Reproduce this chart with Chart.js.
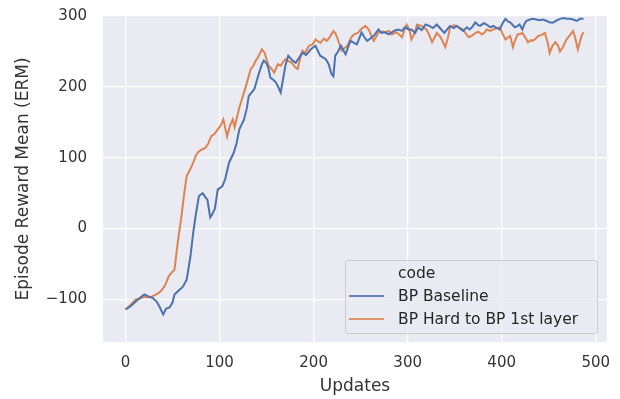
<!DOCTYPE html>
<html lang="en">
<head>
  <meta charset="UTF-8" />
  <title>Episode Reward Mean</title>
  <script src="https://cdn.jsdelivr.net/npm/chart.js"></script>
  <style>
    body { margin: 0; background: #fff; font-family: "DejaVu Sans", sans-serif; }
    #box { position: relative; width: 620px; height: 399px; }
    #legenda {
      position: absolute; left: 345px; top: 260px; width: 251px; height: 72px;
      background: rgba(234, 234, 242, 0.8); border: 1px solid #cccccc; border-radius: 3px;
      color: #262626; font-size: 15.5px;
    }
    #legenda .linha { position: absolute; left: 52px; height: 20px; line-height: 20px; white-space: nowrap; }
    #legenda .traco { position: absolute; left: 3px; width: 35px; height: 2px; }
  </style>
</head>
<body>
<div id="box">
  <canvas id="grafico" width="620" height="399"></canvas>
  <div id="legenda">
    <div class="linha" style="top: 2px;">code</div>
    <div class="traco" style="top: 34px; background: #4C72B0; opacity: 0.85;"></div>
    <div class="linha" style="top: 25px;">BP Baseline</div>
    <div class="traco" style="top: 57px; background: #DD8452; opacity: 0.85;"></div>
    <div class="linha" style="top: 48px;">BP Hard to BP 1st layer</div>
  </div>
</div>

<script>
// valores
const baselineUpdates = [0, 5, 10, 15, 20, 25, 29, 33, 36, 40, 43, 47, 50, 52, 56, 61, 65, 69, 72, 75, 78, 82, 85, 87, 90, 92, 95, 98, 103, 106, 110, 115, 118, 121, 126, 129, 131, 137, 142, 145, 147, 150, 152, 154, 157, 160, 163, 165, 168, 170, 173, 177, 181, 185, 188, 192, 197, 202, 207, 213, 216, 219, 221, 223, 226, 229, 234, 239, 243, 246, 251, 254, 257, 260, 264, 269, 272, 276, 280, 283, 287, 290, 294, 297, 301, 304, 308, 311, 315, 319, 323, 327, 331, 335, 339, 342, 345, 349, 352, 356, 359, 363, 366, 369, 372, 375, 377, 381, 384, 388, 391, 395, 398, 401, 404, 407, 409, 412, 414, 417, 419, 422, 424, 426, 430, 433, 437, 440, 444, 448, 451, 455, 459, 462, 466, 469, 473, 476, 480, 483, 487];
const baselineReward = [-114, -110, -104, -98, -93, -96, -98, -103, -110, -121, -113, -111, -104, -93, -88, -82, -72, -39, -5, 22, 46, 50, 44, 41, 16, 20, 28, 55, 60, 70, 93, 107, 120, 140, 154, 170, 187, 197, 220, 232, 237, 233, 226, 213, 210, 206, 198, 192, 215, 230, 244, 238, 234, 242, 248, 245, 253, 258, 244, 239, 232, 218, 215, 244, 250, 258, 246, 265, 262, 260, 277, 270, 265, 268, 272, 281, 276, 277, 274, 277, 280, 281, 279, 284, 281, 281, 276, 284, 280, 288, 286, 283, 288, 282, 276, 281, 286, 283, 286, 282, 279, 284, 281, 285, 291, 287, 286, 290, 288, 284, 286, 283, 281, 290, 296, 292, 291, 287, 284, 286, 288, 281, 288, 293, 295, 296, 295, 294, 295, 293, 291, 291, 294, 296, 297, 296, 296, 295, 293, 296, 296];

const hardUpdates = [0, 5, 11, 15, 20, 25, 28, 32, 36, 39, 42, 46, 49, 52, 55, 57, 59, 62, 65, 68, 71, 75, 78, 82, 85, 88, 91, 95, 98, 101, 104, 106, 108, 111, 114, 116, 119, 121, 125, 128, 131, 133, 136, 138, 141, 145, 148, 150, 152, 155, 158, 162, 165, 168, 170, 174, 177, 180, 183, 186, 188, 191, 195, 199, 202, 205, 207, 211, 214, 218, 221, 223, 225, 228, 230, 233, 236, 240, 243, 247, 250, 255, 258, 260, 262, 264, 267, 269, 273, 276, 280, 283, 286, 288, 291, 294, 297, 299, 302, 304, 307, 310, 314, 317, 320, 323, 326, 328, 331, 334, 337, 340, 343, 345, 349, 352, 356, 359, 362, 365, 368, 372, 375, 379, 382, 384, 388, 391, 395, 398, 401, 404, 407, 409, 412, 414, 417, 420, 422, 425, 428, 431, 433, 436, 439, 442, 446, 449, 451, 454, 457, 460, 462, 465, 469, 472, 476, 478, 481, 483, 485, 487];
const hardReward = [-114, -108, -100, -99, -96, -97, -96, -93, -90, -86, -80, -67, -62, -58, -25, -5, 13, 46, 74, 82, 90, 104, 109, 112, 114, 120, 130, 134, 140, 145, 154, 142, 130, 145, 154, 143, 160, 171, 188, 201, 215, 225, 230, 236, 242, 253, 248, 238, 230, 226, 220, 232, 230, 236, 239, 236, 234, 228, 225, 242, 251, 248, 258, 260, 267, 264, 262, 268, 265, 272, 279, 276, 270, 258, 251, 255, 258, 270, 274, 276, 281, 286, 282, 277, 270, 265, 272, 277, 278, 277, 279, 274, 276, 277, 274, 270, 282, 288, 280, 267, 275, 288, 286, 284, 281, 273, 263, 268, 276, 272, 265, 256, 270, 284, 287, 286, 283, 281, 275, 270, 272, 276, 278, 274, 277, 281, 279, 281, 283, 284, 275, 267, 270, 272, 256, 265, 274, 275, 276, 270, 263, 266, 265, 268, 272, 273, 276, 262, 248, 258, 263, 258, 250, 256, 267, 272, 279, 270, 253, 263, 272, 277];

const xTicks = [0, 100, 200, 300, 400, 500];
const yTicks = [-100, 0, 100, 200, 300];

const pontos = (xs, ys) => xs.map((x, i) => ({ x: x, y: ys[i] }));

const fundo = {
  id: 'fundo',
  beforeDraw(chart) {
    const { ctx, chartArea } = chart;
    ctx.save();
    ctx.fillStyle = '#EAEAF2';
    ctx.fillRect(chartArea.left, chartArea.top, chartArea.right - chartArea.left, chartArea.bottom - chartArea.top);
    ctx.restore();
  }
};

const fonte = { family: '"DejaVu Sans", sans-serif', size: 15 };

new Chart(document.getElementById('grafico'), {
  type: 'line',
  data: {
    datasets: [
      { label: 'BP Baseline', data: pontos(baselineUpdates, baselineReward), borderColor: '#4C72B0', borderWidth: 2, pointRadius: 0, tension: 0 },
      { label: 'BP Hard to BP 1st layer', data: pontos(hardUpdates, hardReward), borderColor: '#DD8452', borderWidth: 2, pointRadius: 0, tension: 0 }
    ]
  },
  options: {
    responsive: false,
    animation: false,
    layout: { padding: { top: 16, right: 13, left: 0, bottom: 0 } },
    plugins: { legend: { display: false }, tooltip: { enabled: false } },
    scales: {
      x: {
        type: 'linear', min: -24, max: 512,
        afterBuildTicks: s => { s.ticks = xTicks.map(v => ({ value: v })); },
        afterFit: s => { s.height = 57; s.paddingLeft = 0; s.paddingRight = 0; },
        grid: { color: '#ffffff', lineWidth: 1.3, drawTicks: false },
        border: { display: false },
        ticks: { color: '#333333', font: fonte, padding: 12, maxRotation: 0 },
        title: { display: true, text: 'Updates', color: '#333333', font: { family: '"DejaVu Sans", sans-serif', size: 17 }, padding: { bottom: 2 } }
      },
      y: {
        min: -160, max: 300,
        afterBuildTicks: s => { s.ticks = yTicks.map(v => ({ value: v })); },
        afterFit: s => { s.width = 103; s.paddingTop = 0; s.paddingBottom = 0; },
        grid: { color: '#ffffff', lineWidth: 1.3, drawTicks: false },
        border: { display: false },
        ticks: { color: '#333333', font: fonte, padding: 16, callback: v => String(v).replace('-', '\u2212') },
        title: { display: true, text: 'Episode Reward Mean (ERM)', color: '#333333', font: { family: '"DejaVu Sans", sans-serif', size: 17 }, padding: { top: 13 } }
      }
    }
  },
  plugins: [fundo]
});
</script>
</body>
</html>
